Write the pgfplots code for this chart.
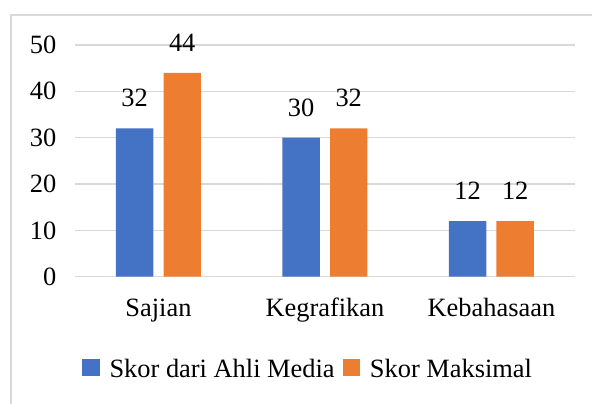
\documentclass[border=0pt]{standalone}
\usepackage{fontspec}
\setmainfont{Liberation Serif}
\usepackage{pgfplots}
\pgfplotsset{compat=1.18}
\definecolor{cblue}{HTML}{4472C4}
\definecolor{corange}{HTML}{ED7D31}
\definecolor{cgrid}{HTML}{D9D9D9}
\newcommand{\lblfont}{\fontsize{19.8pt}{23pt}\selectfont}
\begin{document}
\begin{tikzpicture}
\path[use as bounding box] (0,0) rectangle (444pt,302.25pt);
\draw[cgrid, line width=1.5pt] (8.25pt,-2pt) -- (8.25pt,291pt) -- (446pt,291pt);
\begin{axis}[
  at={(56.4pt,94.7pt)}, anchor=south west,
  scale only axis, width=374.6pt, height=173.8pt,
  ymin=0, ymax=50, xmin=-0.5, xmax=2.5,
  ytick={0,10,20,30,40,50},
  xtick={0,1,2}, xticklabels={Sajian,Kegrafikan,Kebahasaan},
  /pgf/number format/assume math mode=true,
  axis line style={draw=none}, major tick length=0pt,
  ymajorgrids, grid style={cgrid, line width=1pt},
  ybar, bar width=28.1pt,
  clip=false,
  tick label style={font=\lblfont, text=black},
  yticklabel style={anchor=east, inner sep=0pt, xshift=-14pt},
  xticklabel style={anchor=base, inner sep=0pt, yshift=-30pt},
  nodes near coords,
  every node near coord/.append style={anchor=center, inner sep=0pt, yshift=22.7pt, font=\lblfont, text=black},
  legend columns=2,
  legend style={at={(axis description cs:0.0135,-0.398)}, anchor=west, draw=none, fill=none, inner sep=0pt,
    font=\lblfont, text=black,
    nodes={inner sep=0pt},
    /tikz/every odd column/.append style={column sep=7.5pt},
    /tikz/every even column/.append style={column sep=6pt}},
]
\addplot[fill=cblue, draw=none, bar shift=-17.85pt,
  legend image code/.code={\fill[cblue] (0pt,-5pt) rectangle (13pt,8pt);}]
  coordinates {(0,32) (1,30) (2,12)};
\addplot[fill=corange, draw=none, bar shift=17.85pt,
  legend image code/.code={\fill[corange] (0pt,-5pt) rectangle (13pt,8pt);}]
  coordinates {(0,44) (1,32) (2,12)};
\legend{Skor dari Ahli Media, Skor Maksimal}
\end{axis}
\end{tikzpicture}
\end{document}
